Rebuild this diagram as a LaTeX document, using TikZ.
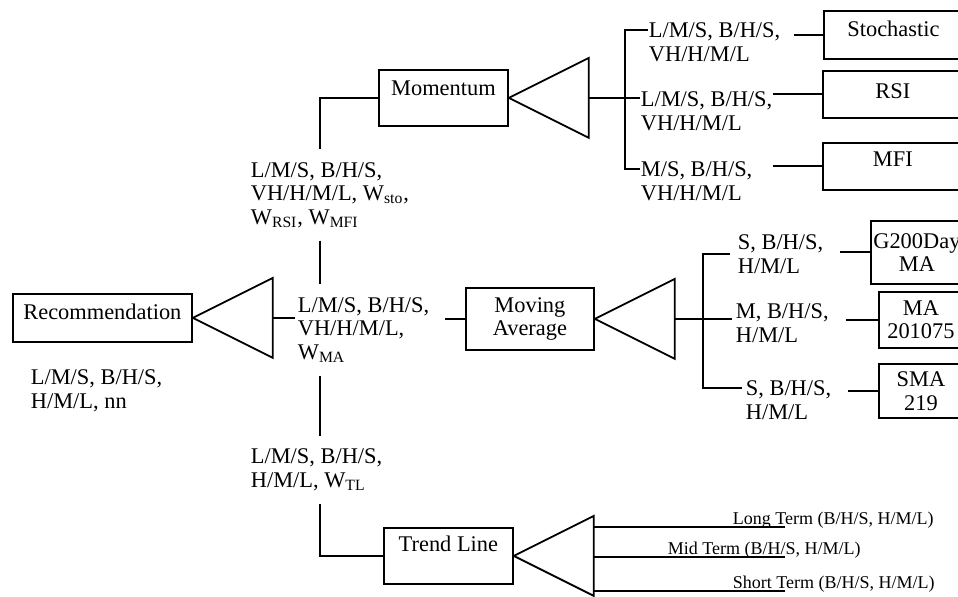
\documentclass[tikz,border=0pt]{standalone}
\usepackage{fontspec}
\setmainfont{Liberation Serif}
\begin{document}
\begin{tikzpicture}[x=0.5pt, y=-0.5pt, line width=0.9pt,
    every node/.style={font=\fontsize{11.2}{11.8}\selectfont},
    topbox/.style={draw, anchor=north west, inner xsep=0pt, text height=7.5pt},
    midbox/.style={draw, anchor=north west, align=center, inner xsep=0pt},
    lbl/.style={anchor=west, align=left, inner xsep=0pt, inner ysep=6pt},
    small/.style={font=\fontsize{9}{10}\selectfont, anchor=base west, inner sep=0pt}]
    \useasboundingbox (0,0) rectangle (958,597);

    % Final output
    \node[topbox, minimum width=89.5pt, inner ysep=5.25pt, text depth=6pt] (rec) at (12,293) {Recommendation};
    \node[lbl] (lrec) at (30,391) {L/M/S, B/H/S,\\H/M/L, nn};
    \draw (rec.east) -- ++(80,-40) -- ++(0,80) -- cycle;
    \coordinate (t1) at ([xshift=40pt]rec.east);

    % Inputs of the recommendation
    \node[lbl] (lmom) at (250,195) {L/M/S, B/H/S,\\VH/H/M/L, W\textsubscript{sto},\\W\textsubscript{RSI}, W\textsubscript{MFI}};
    \node[lbl] (lma) at (297,330) {L/M/S, B/H/S,\\VH/H/M/L,\\W\textsubscript{MA}};
    \node[lbl] (ltl) at (250,470) {L/M/S, B/H/S,\\H/M/L, W\textsubscript{TL}};
    \coordinate (bus) at (320,97);
    \draw (t1) -- ([xshift=-1pt]lma.west |- t1);

    % Momentum
    \node[topbox, minimum width=64.5pt, inner ysep=5.25pt, text depth=10pt] (mom) at (378,69) {Momentum};
    \draw (mom.west) -| (lmom.north -| bus);
    \draw (lmom.south -| bus) -- (lma.north -| bus);
    \draw (mom.east) -- ++(80,-40) -- ++(0,80) -- cycle;
    \coordinate (t3) at ([xshift=40pt]mom.east);
    \coordinate (sbus) at ([xshift=18pt]t3);
    \node[lbl] (ls1) at (648,42) {L/M/S, B/H/S,\\VH/H/M/L};
    \node[lbl] (ls2) at (640,111) {L/M/S, B/H/S,\\VH/H/M/L};
    \node[lbl] (ls3) at (640,181) {M/S, B/H/S,\\VH/H/M/L};
    \draw (t3) -- (ls2.west |- t3);
    \draw ([yshift=6pt]ls1.west) -| (sbus) |- ([yshift=6pt]ls3.west);
    \node[topbox, minimum width=69.5pt, inner ysep=5.25pt, text depth=6pt] (sto) at (823,10) {Stochastic};
    \node[topbox, minimum width=70pt, inner ysep=6.25pt, text depth=3.5pt] (rsi) at (822,70) {RSI};
    \node[topbox, minimum width=70pt, inner ysep=4.25pt, text depth=7.5pt] (mfi) at (822,142) {MFI};
    \draw (sto.west) -- ([xshift=6.5pt]ls1.east |- sto.west);
    \draw (rsi.west) -- (ls2.east |- rsi.west);
    \draw (mfi.west) -- (ls2.east |- mfi.west);

    % Moving average
    \node[midbox, minimum width=64pt, minimum height=31pt] (ma) at (465,287) {Moving\\Average};
    \draw (ma.west) -- ([xshift=7.5pt]lma.east |- ma.west);
    \draw (ma.east) -- ++(80,-40) -- ++(0,80) -- cycle;
    \coordinate (t2) at ([xshift=40pt]ma.east);
    \coordinate (mbus) at ([xshift=14pt]t2);
    \node[lbl] (lg1) at (737,254) {S, B/H/S,\\H/M/L};
    \node[lbl] (lg2) at (735,323) {M, B/H/S,\\H/M/L};
    \node[lbl] (lg3) at (745,400) {S, B/H/S,\\H/M/L};
    \draw (t2) -- ([xshift=-1.5pt]lg2.west |- t2);
    \draw ([xshift=-3.5pt]lg1.west) -| (mbus) |- ([xshift=-1.5pt,yshift=6pt]lg3.west);
    \node[midbox, minimum width=46pt, minimum height=31.5pt] (g200) at (870,220) {G200Day\\MA};
    \node[midbox, minimum width=42pt, minimum height=28pt] (ma2) at (878,291) {MA\\201075};
    \node[midbox, minimum width=42pt, minimum height=27pt] (sma) at (878,363) {SMA\\219};
    \draw (g200.west) -- ([xshift=8pt]lg1.east |- g200.west);
    \draw (ma2.west) -- ([xshift=8pt]lg2.east |- ma2.west);
    \draw (sma.west) -- ([xshift=8pt]lg3.east |- sma.west);

    % Trend line
    \node[topbox, minimum width=64.5pt, inner ysep=4.25pt, text depth=12pt] (tl) at (383,527) {Trend Line};
    \draw (lma.south -| bus) -- (ltl.north -| bus);
    \draw (ltl.south -| bus) |- (tl.west);
    \draw (tl.east) -- ++(80,-40) -- ++(0,80) -- cycle;
    \coordinate (t4) at ([xshift=40pt]tl.east);
    \coordinate (e1) at (785,527);
    \coordinate (e2) at (785,557);
    \coordinate (e3) at (785,591);
    \draw (e1 -| t4) -- (e1);
    \draw (e2 -| t4) -- (e2);
    \draw (e3 -| t4) -- (e3);
    \node[small] (lt1) at (732,525) {Long Term (B/H/S, H/M/L)};
    \node[small] (lt2) at (667,555) {Mid Term (B/H/S, H/M/L)};
    \node[small] (lt3) at (732,589) {Short Term (B/H/S, H/M/L)};
\end{tikzpicture}
\end{document}
